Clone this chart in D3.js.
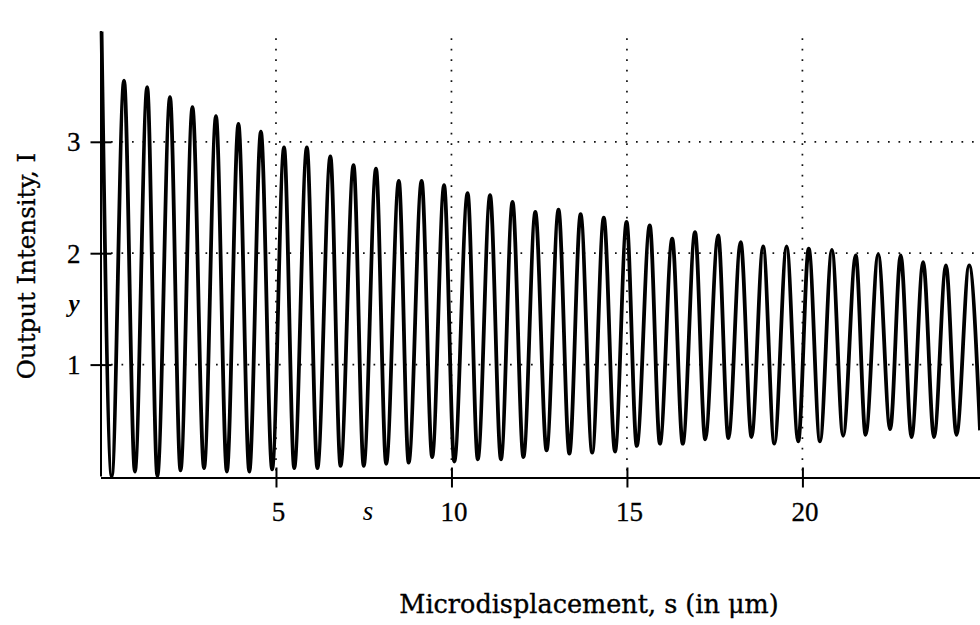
<!DOCTYPE html>
<meta charset="utf-8">
<style>
    body { margin: 0; background: #fff; }
    .grid line { stroke: #111; stroke-width: 1.7px; stroke-dasharray: 1.7 8.8; }
    .axis path, .axis line { stroke: #000; stroke-width: 2px; }
    .axis text { font-family: "Liberation Serif", serif; font-size: 27px; fill: #000; stroke: #000; stroke-width: 0.3px; }
    .curve { fill: none; stroke: #000; stroke-width: 3.8px; stroke-linejoin: round; }
    .title { font-family: "DejaVu Serif", serif; fill: #000; stroke: #000; stroke-width: 0.35px; }
</style>
<svg width="980" height="625"></svg>
<script src="https://d3js.org/d3.v7.min.js"></script>
<script>

    // maxima and minima of the fringe signal
    var peakS = [0.03, 0.67, 1.33, 1.98, 2.62, 3.29, 3.93, 4.57, 5.23, 5.88, 6.55, 7.21, 7.85,
        8.50, 9.15, 9.79, 10.46, 11.10, 11.74, 12.39, 13.05, 13.68, 14.34, 14.99, 15.65, 16.29,
        16.94, 17.60, 18.24, 18.88, 19.55, 20.18, 20.84, 21.52, 22.16, 22.80, 23.44, 24.09, 24.75];
    var peakI = [3.99, 3.55, 3.49, 3.40, 3.31, 3.23, 3.16, 3.09, 2.95, 2.95, 2.87, 2.79, 2.76,
        2.65, 2.65, 2.61, 2.54, 2.52, 2.46, 2.37, 2.39, 2.35, 2.32, 2.28, 2.25, 2.13,
        2.19, 2.16, 2.10, 2.06, 2.06, 2.04, 2.03, 1.98, 1.99, 1.98, 1.92, 1.89, 1.89];
    var troughS = [0.32, 0.98, 1.62, 2.28, 2.95, 3.60, 4.24, 4.89, 5.52, 6.18, 6.84, 7.50, 8.14,
        8.78, 9.45, 10.08, 10.75, 11.41, 12.05, 12.71, 13.36, 14.01, 14.66, 15.28, 15.94, 16.59,
        17.23, 17.89, 18.55, 19.20, 19.88, 20.50, 21.16, 21.80, 22.50, 23.11, 23.75, 24.39];
    var troughI = [0.00, 0.04, 0.00, 0.05, 0.07, 0.04, 0.04, 0.06, 0.07, 0.07, 0.09, 0.09, 0.11,
        0.12, 0.17, 0.13, 0.15, 0.15, 0.17, 0.23, 0.20, 0.21, 0.22, 0.27, 0.29, 0.29,
        0.33, 0.34, 0.35, 0.29, 0.31, 0.31, 0.36, 0.37, 0.42, 0.35, 0.35, 0.37];
    var lastPoint = [25.06, 0.41];

    var xTicks = [5, 10, 15, 20];
    var yTicks = [1, 2, 3];

    var svg = d3.select("svg"),
        width = +svg.attr("width"),
        height = +svg.attr("height");

    var x = d3.scaleLinear().domain([0, 25.06]).range([100.5, 980]);
    var y = d3.scaleLinear().domain([0, 4]).range([476, 30.4]);

    var points = [];
    peakS.forEach(function (s, i) {
        points.push([s, peakI[i]]);
        if (i < troughS.length) points.push([troughS[i], troughI[i]]);
    });
    points.push(lastPoint);

    // dotted grid
    var grid = svg.append("g").attr("class", "grid");
    grid.selectAll(".v")
        .data(xTicks)
        .enter().append("line")
        .attr("x1", function (d) { return x(d); })
        .attr("x2", function (d) { return x(d); })
        .attr("y1", y(3.93))
        .attr("y2", y(0));
    grid.selectAll(".h")
        .data(yTicks)
        .enter().append("line")
        .attr("x1", x(0))
        .attr("x2", width)
        .attr("y1", function (d) { return y(d); })
        .attr("y2", function (d) { return y(d); });

    // signal
    var line = d3.line()
        .x(function (d) { return x(d[0]); })
        .y(function (d) { return y(d[1]); })
        .curve(d3.curveMonotoneX);

    svg.append("path")
        .datum(points)
        .attr("class", "curve")
        .attr("d", line);

    // axes, ticks cross the axis line
    var yAxis = svg.append("g")
        .attr("class", "axis")
        .attr("transform", "translate(" + x(0) + ",0)")
        .call(d3.axisLeft(y).tickValues(yTicks).tickFormat(d3.format("d"))
            .tickSize(10).tickSizeOuter(0).tickPadding(10));
    yAxis.selectAll(".tick line").attr("x1", 11);
    yAxis.selectAll(".tick text").attr("dy", "0.34em");

    var xAxis = svg.append("g")
        .attr("class", "axis")
        .attr("transform", "translate(0," + (y(0) + 1.5) + ")")
        .call(d3.axisBottom(x).tickValues(xTicks).tickFormat(d3.format("d"))
            .tickSize(10).tickSizeOuter(0));
    xAxis.selectAll(".tick line").attr("y1", -10);
    xAxis.selectAll(".tick text").attr("y", 43).attr("dy", 0).attr("dx", 2);

    // titles
    svg.append("text")
        .attr("class", "title")
        .attr("x", 589)
        .attr("y", 613)
        .attr("text-anchor", "middle")
        .style("font-size", "25.5px")
        .text("Microdisplacement, s (in μm)");

    svg.append("text")
        .attr("class", "title")
        .attr("transform", "translate(35,266) rotate(-90)")
        .attr("text-anchor", "middle")
        .style("font-size", "24.5px")
        .text("Output Intensity, I");

    // stray symbol marks on the original figure
    svg.append("text")
        .attr("x", 74)
        .attr("y", 312)
        .attr("text-anchor", "middle")
        .style("font-family", "Liberation Serif, serif")
        .style("font-style", "italic")
        .style("font-weight", "bold")
        .style("font-size", "25px")
        .text("y");

    svg.append("text")
        .attr("x", 368)
        .attr("y", 520)
        .attr("text-anchor", "middle")
        .style("font-family", "Liberation Serif, serif")
        .style("font-style", "italic")
        .style("font-size", "27px")
        .text("s");

</script>
